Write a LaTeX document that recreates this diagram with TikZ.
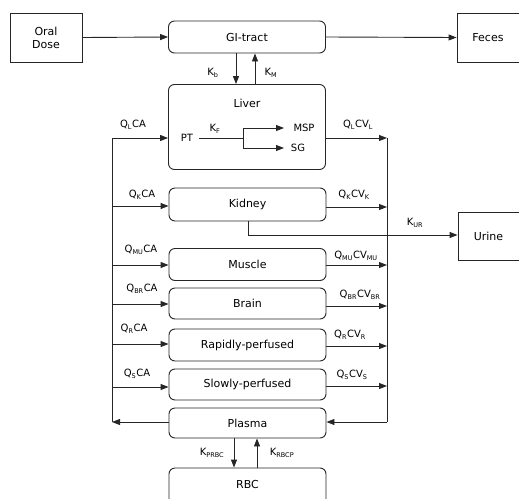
\documentclass[tikz,border=0pt]{standalone}
\usepackage{fontspec}
\setmainfont{DejaVu Sans}
\usetikzlibrary{arrows.meta}
\newcommand{\lsub}[1]{\textsubscript{\fontsize{6.5}{7}\selectfont #1}}
\tikzset{
  line/.style={draw=black!85, line width=0.9pt},
  arr/.style={line, -{Triangle[length=8pt,width=6pt]}},
  sqbox/.style={draw=black!85, line width=0.9pt, align=center, font=\fontsize{11}{13}\selectfont, inner sep=0pt},
  rbox/.style={sqbox, rounded corners=6pt, minimum width=157, minimum height=32},
  lab/.style={font=\fontsize{10}{12}\selectfont, inner sep=0pt},
  inlab/.style={font=\fontsize{11}{13}\selectfont, inner sep=0pt}
}
\begin{document}
\begin{tikzpicture}[x=1pt,y=-1pt]
\useasboundingbox (0,0) rectangle (519,498);
% boxes
\node[sqbox, minimum width=72, minimum height=49] (oral) at (46,37.5) {Oral\\Dose};
\node[rbox] (gi) at (247,37) {GI-tract};
\node[sqbox, minimum width=62, minimum height=49] (feces) at (488,37.5) {Feces};
\node[rbox, minimum height=85] (liver) at (247,127) {};
\node[inlab] (livert) at (247,103) {Liver};
\node[rbox, minimum height=33] (kidney) at (247.5,204.5) {Kidney};
\node[sqbox, minimum width=61, minimum height=48] (urine) at (488.5,236) {Urine};
\node[rbox, minimum height=32] (muscle) at (247.5,264.5) {Muscle};
\node[rbox, minimum height=31] (brain) at (247.5,303.5) {Brain};
\node[rbox, minimum height=32] (rapid) at (247.5,345) {Rapidly-perfused};
\node[rbox, minimum height=31] (slow) at (247.5,384.5) {Slowly-perfused};
\node[rbox, minimum height=30] (plasma) at (247.5,423) {Plasma};
\node[rbox, minimum height=40] (rbc) at (247.5,488) {};
\node[inlab] (rbct) at (247.5,484) {RBC};
% liver internals
\node[inlab, font=\fontsize{10}{12}\selectfont] (pt) at (187,138) {PT};
\node[inlab, font=\fontsize{10}{12}\selectfont] (msp) at (304,128) {MSP};
\node[inlab, font=\fontsize{10}{12}\selectfont] (sg) at (298,148) {SG};
\coordinate (br) at (243,138);
\coordinate (mspa) at (284,128);
\coordinate (sga) at (284,148);
\draw[line] (199,138) -- (br);
\draw[arr] (br) -- (br |- mspa) -- (mspa);
\draw[arr] (br) -- (br |- sga) -- (sga);
\node[lab] (kf) at (215,129) {K\lsub{F}};
% top arrows
\draw[arr] (oral.east) -- (gi.west);
\draw[arr] (gi.east) -- (feces.west);
\draw[arr] (gi.south -| 236,0) -- (liver.north -| 236,0);
\draw[arr] (liver.north -| 255,0) -- (gi.south -| 255,0);
\node[lab] (kb) at (213,73) {K\lsub{b}};
\node[lab] (km) at (271,73) {K\lsub{M}};
% buses
\coordinate (lt) at (112,138);
\coordinate (lb) at (112,422);
\coordinate (rt) at (387,138);
\coordinate (rb) at (387,422);
\draw[line] (lt) -- (lb);
\draw[line] (rt) -- (rb);
\draw[arr] (plasma.west |- lb) -- (lb);
\draw[arr] (rb) -- (plasma.east |- rb);
% liver flows
\draw[arr] (lt) -- (liver.west |- lt);
\draw[arr] (liver.east |- rt) -- (rt);
\node[lab] (qlca) at (133,125) {Q\lsub{L}CA};
\node[lab] (qlcv) at (358,125) {Q\lsub{L}CV\lsub{L}};
% kidney
\coordinate (lk) at (112,206); \coordinate (rk) at (387,207);
\draw[arr] (lk) -- (kidney.west |- lk);
\draw[arr] (kidney.east |- rk) -- (rk);
\node[lab] (qkca) at (142,195) {Q\lsub{K}CA};
\node[lab] (qkcv) at (354,195) {Q\lsub{K}CV\lsub{K}};
\coordinate (kur) at (248,235);
\draw[arr] (kidney.south -| kur) -- (kur) -- (urine.west |- kur);
\node[lab] (kurl) at (415,223) {K\lsub{UR}};
% muscle
\coordinate (lm) at (112,265); \coordinate (rm) at (387,265);
\draw[arr] (lm) -- (muscle.west |- lm);
\draw[arr] (muscle.east |- rm) -- (rm);
\node[lab] (qmca) at (141,250) {Q\lsub{MU}CA};
\node[lab] (qmcv) at (356,256) {Q\lsub{MU}CV\lsub{MU}};
% brain
\coordinate (lbr) at (112,304); \coordinate (rbr) at (387,306);
\draw[arr] (lbr) -- (brain.west |- lbr);
\draw[arr] (brain.east |- rbr) -- (rbr);
\node[lab] (qbca) at (142,289) {Q\lsub{BR}CA};
\node[lab] (qbcv) at (360,295) {Q\lsub{BR}CV\lsub{BR}};
% rapid
\coordinate (lr) at (112,344); \coordinate (rr) at (387,346);
\draw[arr] (lr) -- (rapid.west |- lr);
\draw[arr] (rapid.east |- rr) -- (rr);
\node[lab] (qrca) at (134,329) {Q\lsub{R}CA};
\node[lab] (qrcv) at (350,335) {Q\lsub{R}CV\lsub{R}};
% slow
\coordinate (ls) at (112,387); \coordinate (rs) at (387,386);
\draw[arr] (ls) -- (slow.west |- ls);
\draw[arr] (slow.east |- rs) -- (rs);
\node[lab] (qsca) at (137,374) {Q\lsub{S}CA};
\node[lab] (qscv) at (352,375) {Q\lsub{S}CV\lsub{S}};
% plasma - rbc
\draw[arr] (plasma.south -| 234,0) -- (rbc.north -| 234,0);
\draw[arr] (rbc.north -| 257,0) -- (plasma.south -| 257,0);
\node[lab] (kprbc) at (212,453) {K\lsub{PRBC}};
\node[lab] (krbcp) at (282,453) {K\lsub{RBCP}};
\end{tikzpicture}
\end{document}
